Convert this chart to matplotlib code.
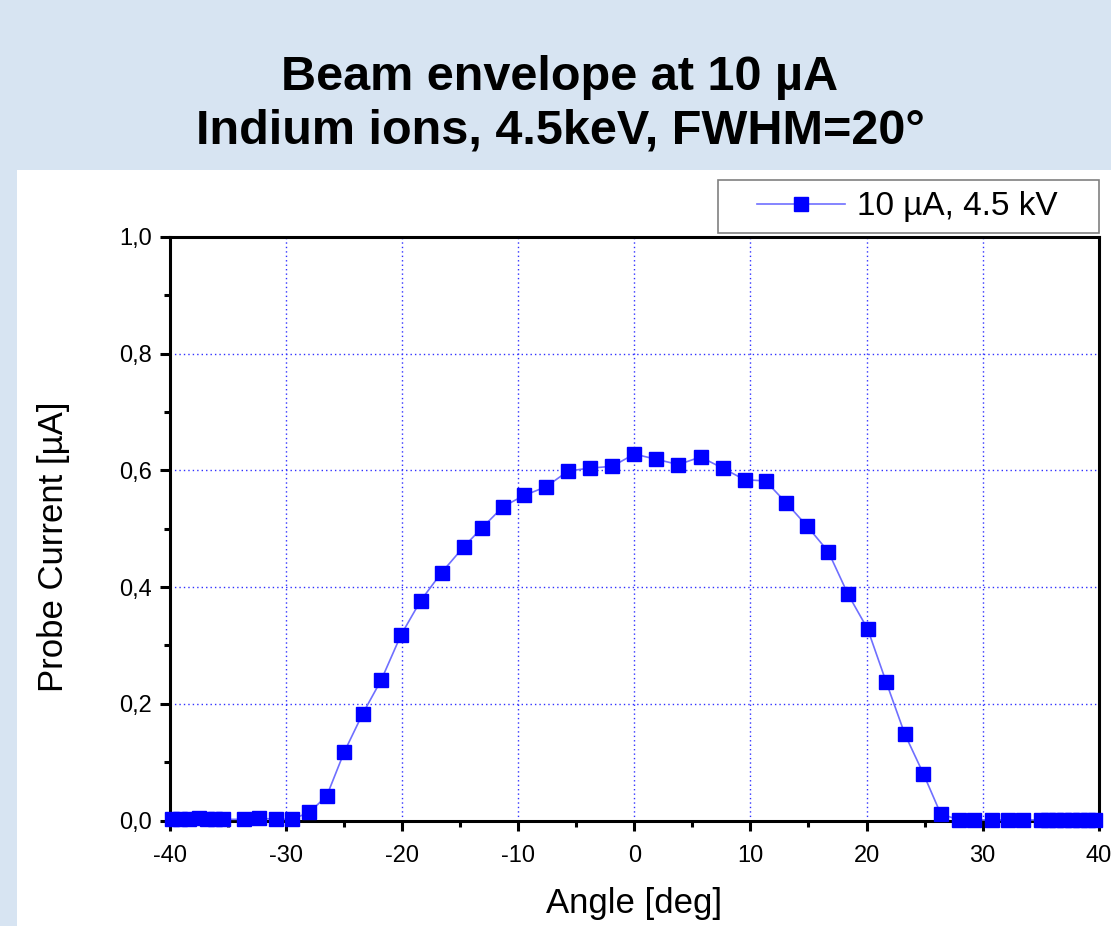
import matplotlib
matplotlib.use('Agg')
import matplotlib.pyplot as plt
from matplotlib.patches import Rectangle
from matplotlib.ticker import MultipleLocator, FuncFormatter

plt.rcParams['font.family'] = ['Liberation Sans', 'DejaVu Sans']

# measured beam profile, 10 uA, 4.5 kV
angle = [-39.8, -39.1, -38.4, -37.5, -36.8, -36.1, -35.4, -33.6, -32.3, -30.9,
         -29.5, -28.0, -26.5, -25.0, -23.4, -21.8, -20.1, -18.4, -16.6, -14.7,
         -13.1, -11.3, -9.5, -7.6, -5.7, -3.8, -1.9, 0.0, 1.9, 3.8,
         5.7, 7.6, 9.5, 11.3, 13.1, 14.9, 16.7, 18.4, 20.1, 21.7,
         23.3, 24.9, 26.4, 28.0, 29.3, 30.8, 32.2, 33.5, 35.0, 35.6,
         36.3, 37.0, 37.7, 38.4, 39.1, 39.7]
current = [0.002, 0.002, 0.003, 0.005, 0.003, 0.002, 0.002, 0.002, 0.004, 0.002,
           0.002, 0.014, 0.042, 0.117, 0.183, 0.241, 0.318, 0.377, 0.425, 0.469,
           0.502, 0.538, 0.557, 0.572, 0.599, 0.604, 0.607, 0.628, 0.619, 0.610,
           0.623, 0.604, 0.584, 0.582, 0.544, 0.504, 0.461, 0.388, 0.328, 0.237,
           0.148, 0.080, 0.011, 0.001, 0.001, 0.001, 0.001, 0.001, 0.001, 0.001,
           0.001, 0.001, 0.001, 0.001, 0.001, 0.001]

title_lines = ['Beam envelope at 10 µA', 'Indium ions, 4.5keV, FWHM=20°']

W, H = 1111, 926
fig = plt.figure(figsize=(W / 100, H / 100), dpi=100, facecolor='#d7e4f2')
# white panel behind the plot
fig.patches.append(Rectangle((17 / W, 0), 1 - 17 / W, (H - 170) / H,
                             transform=fig.transFigure, facecolor='white',
                             edgecolor='none', zorder=-5))

fig.text(0.504, 1 - 78 / H, title_lines[0], ha='center', va='center',
         fontsize=35, fontweight='bold')
fig.text(0.504, 1 - 131 / H, title_lines[1], ha='center', va='center',
         fontsize=35, fontweight='bold')

ax = fig.add_axes([170 / W, (H - 820.5) / H, (1098.7 - 170) / W, 583.5 / H])
ax.set_facecolor('white')
ax.plot(angle, current, color='#6f6fff', linewidth=1.2, marker='s',
        markersize=10, markerfacecolor='#0000ff', markeredgecolor='#0000ff',
        label='10 µA, 4.5 kV', clip_on=False, zorder=5)

ax.set_xlim(-40, 40)
ax.set_ylim(0, 1.0)
ax.xaxis.set_major_locator(MultipleLocator(10))
ax.xaxis.set_minor_locator(MultipleLocator(5))
ax.yaxis.set_major_locator(MultipleLocator(0.2))
ax.yaxis.set_minor_locator(MultipleLocator(0.1))
ax.yaxis.set_major_formatter(FuncFormatter(lambda v, p: f'{v:.1f}'.replace('.', ',')))
ax.xaxis.set_major_formatter(FuncFormatter(lambda v, p: f'{v:.0f}'))

for s in ax.spines.values():
    s.set_linewidth(2.2)
ax.tick_params(which='major', direction='out', length=7, width=2.2,
               labelsize=17)
ax.tick_params(axis='x', which='major', pad=11)
ax.tick_params(axis='y', which='major', pad=6)
ax.tick_params(which='minor', direction='out', length=4, width=2.2)

ax.grid(True, which='major', color='#3030ff', linestyle=(0, (1, 2.2)),
        linewidth=1.0, zorder=0)

ax.set_xlabel('Angle [deg]', fontsize=25, labelpad=14)
ax.set_ylabel('Probe Current [µA]', fontsize=25)
ax.yaxis.set_label_coords(-0.108, 0.469)

# legend sits above the plot's top-right corner, in its own grey box
fig.patches.append(Rectangle((718 / W, 1 - 233 / H), (1099 - 718) / W, 53 / H,
                             transform=fig.transFigure, facecolor='white',
                             edgecolor='#808080', linewidth=1.2, zorder=10))
leg = fig.legend(loc='center left', bbox_to_anchor=(757 / W, 1 - 207 / H),
                 bbox_transform=fig.transFigure, fontsize=24, frameon=False,
                 handlelength=2.65, handletextpad=0.36, borderpad=0,
                 borderaxespad=0)
leg.set_zorder(11)

fig.savefig('out.png', dpi=100, facecolor=fig.get_facecolor())
